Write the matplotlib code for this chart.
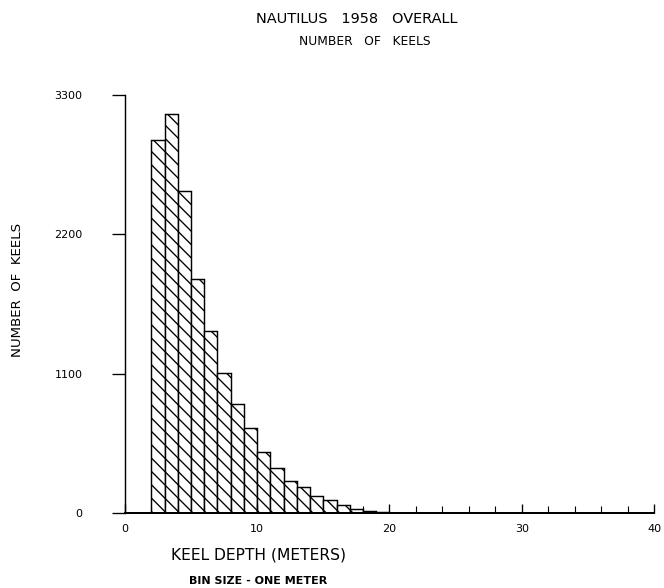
import numpy as np
import matplotlib.pyplot as plt

# keel depth histogram, bins of one meter
bin_left = [2, 3, 4, 5, 6, 7, 8, 9, 10, 11, 12, 13, 14, 15, 16, 17, 18, 19]
keel_count = [2946, 3150, 2545, 1848, 1433, 1102, 863, 670, 484, 357,
              254, 202, 135, 100, 62, 28, 14, 6]
x_ticks = [0, 10, 20, 30, 40]
y_ticks = [0, 1100, 2200, 3300]

plt.rcParams['hatch.linewidth'] = 1.2

dpi = 80
fig = plt.figure(figsize=(664 / dpi, 588 / dpi), dpi=dpi)
ax = fig.add_axes([0.188, 0.1276, 0.797, 0.7108])

ax.bar(bin_left, keel_count, width=1.0, align='edge', color='white',
       edgecolor='black', linewidth=1.3, hatch='\\\\')

ax.set_xlim(0, 40)
ax.set_ylim(0, 3300)
ax.spines['top'].set_visible(False)
ax.spines['right'].set_visible(False)
ax.spines['left'].set_linewidth(1.3)
ax.spines['bottom'].set_linewidth(1.8)

ax.set_xticks(x_ticks)
ax.set_xticks(np.arange(0, 41, 2), minor=True)
ax.set_yticks(y_ticks)
ax.tick_params(axis='x', direction='in', length=8, width=1.2, pad=10, labelsize=10)
ax.tick_params(axis='x', which='minor', direction='in', length=6, width=1.0)
ax.tick_params(axis='y', direction='out', length=12, width=1.2, pad=26, labelsize=10)

fig.text(0.537, 0.967, 'NAUTILUS   1958   OVERALL', ha='center', va='center',
         fontsize=13)
fig.text(0.549, 0.930, 'NUMBER   OF   KEELS', ha='center', va='center',
         fontsize=11)
fig.text(0.027, 0.507, 'NUMBER  OF  KEELS', ha='center', va='center',
         rotation=90, fontsize=12)
fig.text(0.389, 0.056, 'KEEL DEPTH (METERS)', ha='center', va='center', fontsize=14)
fig.text(0.389, 0.012, 'BIN SIZE - ONE METER', ha='center', va='center',
         fontsize=10, fontweight='bold')

fig.savefig('out.png', dpi=dpi)
